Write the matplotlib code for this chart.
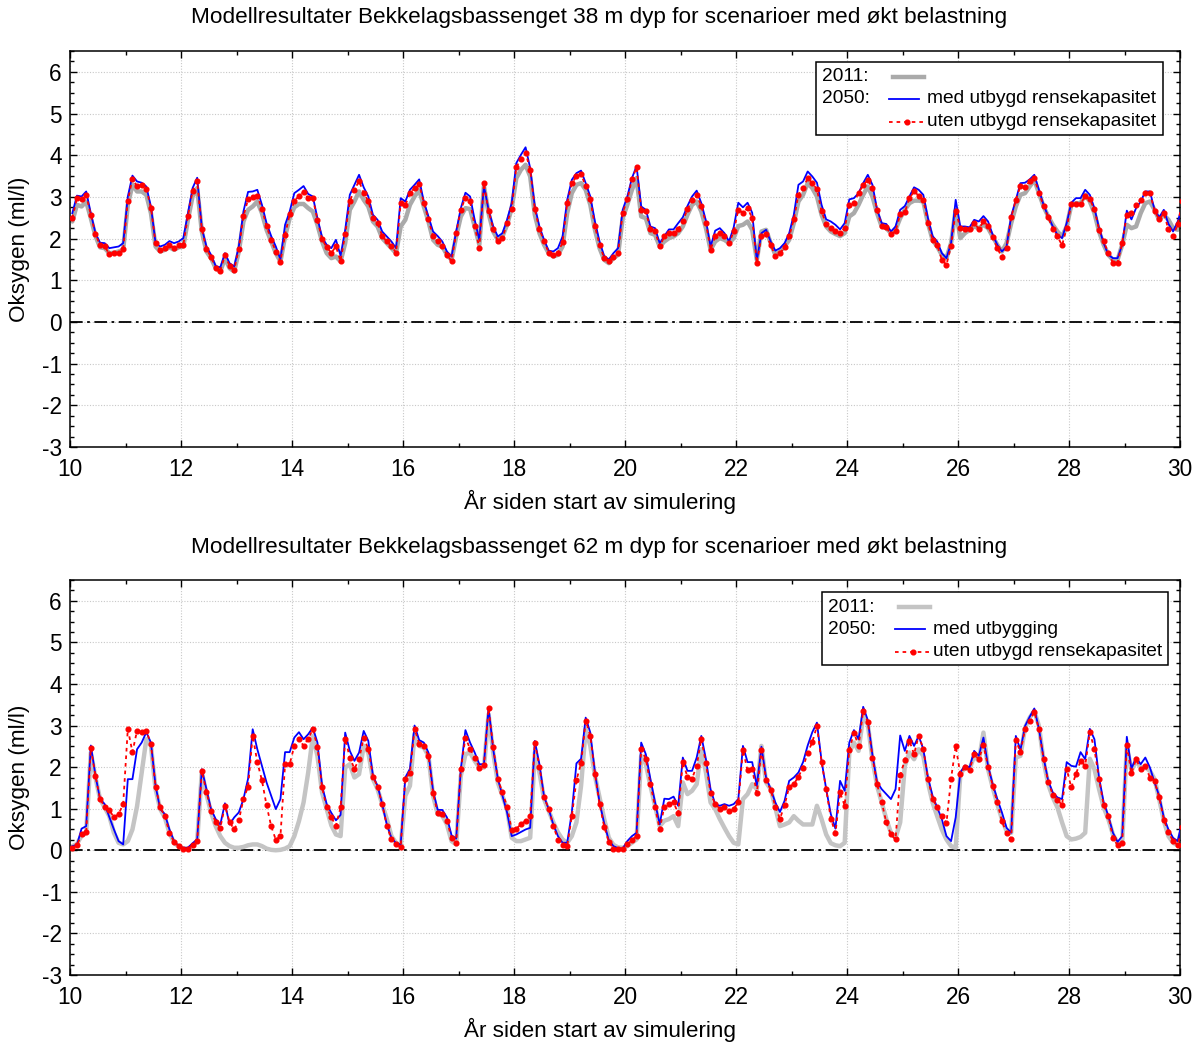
import numpy as np
import matplotlib
matplotlib.use("Agg")
import matplotlib.pyplot as plt
from matplotlib.ticker import MultipleLocator
from matplotlib.patches import Rectangle
from matplotlib.lines import Line2D

plt.rcParams['font.family'] = ['Liberation Sans', 'DejaVu Sans']
plt.rcParams['axes.unicode_minus'] = False

# ---------------- data (monthly values, year 10 .. 30) ----------------
top_2011 = [
    2.41, 2.81, 2.77, 2.89, 2.49, 2.06, 1.79, 1.77, 1.65, 1.66, 1.69, 1.73,
    2.81, 3.29, 3.13, 3.13, 3.05, 2.61, 1.81, 1.69, 1.73, 1.79, 1.73, 1.79,
    1.81, 2.45, 3.01, 3.21, 2.17, 1.69, 1.53, 1.29, 1.21, 1.53, 1.29, 1.21,
    1.69, 2.41, 2.69, 2.77, 2.89, 2.61, 2.21, 1.93, 1.65, 1.45, 2.05, 2.49,
    2.75, 2.83, 2.83, 2.73, 2.65, 2.33, 1.93, 1.65, 1.53, 1.57, 1.45, 1.89,
    2.69, 2.89, 3.13, 2.93, 2.77, 2.41, 2.29, 2.01, 1.89, 1.77, 1.65, 2.29,
    2.45, 2.81, 3.01, 3.17, 2.77, 2.41, 1.97, 1.85, 1.81, 1.61, 1.49, 2.05,
    2.53, 2.73, 2.71, 2.29, 1.85, 3.26, 2.61, 2.17, 1.97, 2.05, 2.33, 2.73,
    3.45, 3.65, 3.77, 3.49, 2.57, 2.13, 1.85, 1.65, 1.57, 1.61, 1.81, 2.61,
    3.09, 3.29, 3.33, 3.17, 2.81, 2.21, 1.77, 1.49, 1.41, 1.53, 1.61, 2.49,
    2.81, 3.17, 3.45, 2.53, 2.49, 2.13, 2.09, 1.81, 1.93, 2.01, 2.05, 2.13,
    2.29, 2.57, 2.81, 2.89, 2.65, 2.25, 1.73, 1.93, 2.01, 1.97, 1.89, 2.01,
    2.30, 2.33, 2.41, 2.21, 1.49, 2.17, 2.21, 1.89, 1.61, 1.69, 1.81, 1.97,
    2.37, 2.89, 3.05, 3.33, 3.21, 3.01, 2.57, 2.29, 2.17, 2.11, 2.06, 2.13,
    2.53, 2.61, 2.81, 3.05, 3.25, 3.01, 2.61, 2.29, 2.25, 2.13, 2.21, 2.49,
    2.69, 2.85, 2.91, 2.91, 2.89, 2.37, 1.97, 1.81, 1.61, 1.53, 1.89, 2.69,
    2.01, 2.13, 2.21, 2.29, 2.25, 2.33, 2.25, 2.05, 1.85, 1.69, 1.89, 2.37,
    2.77, 3.05, 3.09, 3.25, 3.41, 3.09, 2.77, 2.53, 2.33, 2.17, 2.05, 2.29,
    2.81, 2.85, 2.85, 3.05, 2.89, 2.61, 2.17, 1.85, 1.61, 1.49, 1.49, 1.85,
    2.33, 2.25, 2.29, 2.61, 2.85, 2.89, 2.69, 2.45, 2.57, 2.45, 2.25, 2.21,
    2.61,
]
top_med = [
    2.61, 3.03, 3.01, 3.13, 2.61, 2.13, 1.90, 1.89, 1.77, 1.79, 1.81, 1.89,
    3.01, 3.51, 3.37, 3.34, 3.25, 2.77, 1.89, 1.81, 1.85, 1.94, 1.89, 1.93,
    2.01, 2.61, 3.21, 3.46, 2.25, 1.81, 1.61, 1.34, 1.31, 1.65, 1.41, 1.33,
    1.81, 2.65, 3.12, 3.13, 3.17, 2.81, 2.37, 2.06, 1.81, 1.50, 2.33, 2.65,
    3.09, 3.17, 3.26, 3.07, 3.01, 2.49, 2.03, 1.85, 1.77, 1.97, 1.59, 2.21,
    3.05, 3.29, 3.53, 3.23, 3.01, 2.57, 2.45, 2.17, 2.05, 1.93, 1.77, 2.97,
    2.89, 3.17, 3.29, 3.42, 2.89, 2.53, 2.17, 2.06, 1.93, 1.69, 1.57, 2.17,
    2.73, 3.10, 3.01, 2.45, 1.97, 3.26, 2.69, 2.29, 2.05, 2.13, 2.45, 2.85,
    3.81, 4.01, 4.19, 3.69, 2.77, 2.29, 1.97, 1.71, 1.69, 1.77, 2.05, 2.93,
    3.41, 3.57, 3.63, 3.33, 3.01, 2.41, 1.93, 1.58, 1.50, 1.65, 1.77, 2.69,
    3.01, 3.45, 3.74, 2.77, 2.69, 2.29, 2.25, 1.89, 2.06, 2.22, 2.22, 2.37,
    2.51, 2.78, 3.01, 3.15, 2.85, 2.43, 1.81, 2.19, 2.25, 2.13, 1.93, 2.27,
    2.86, 2.75, 2.86, 2.62, 1.47, 2.13, 2.21, 1.93, 1.71, 1.77, 1.89, 2.13,
    2.57, 3.29, 3.37, 3.61, 3.49, 3.34, 2.81, 2.46, 2.41, 2.33, 2.22, 2.37,
    2.94, 2.97, 3.09, 3.33, 3.53, 3.29, 2.70, 2.37, 2.35, 2.17, 2.29, 2.69,
    2.78, 3.01, 3.23, 3.17, 3.05, 2.49, 2.06, 1.93, 1.65, 1.53, 1.89, 2.93,
    2.29, 2.29, 2.27, 2.45, 2.41, 2.54, 2.41, 2.09, 1.85, 1.69, 1.81, 2.54,
    2.93, 3.33, 3.34, 3.42, 3.53, 3.17, 2.81, 2.53, 2.29, 2.09, 2.01, 2.37,
    2.86, 2.97, 2.97, 3.17, 3.05, 2.73, 2.25, 1.89, 1.61, 1.53, 1.53, 1.85,
    2.67, 2.46, 2.73, 2.89, 3.13, 3.13, 2.69, 2.51, 2.69, 2.35, 2.17, 2.41,
    2.77,
]
top_uten = [
    2.49, 2.97, 2.94, 3.04, 2.57, 2.10, 1.84, 1.82, 1.62, 1.66, 1.66, 1.74,
    2.91, 3.44, 3.25, 3.29, 3.19, 2.74, 1.89, 1.72, 1.77, 1.84, 1.78, 1.84,
    1.85, 2.54, 3.14, 3.38, 2.22, 1.75, 1.55, 1.30, 1.23, 1.60, 1.35, 1.25,
    1.75, 2.54, 2.94, 2.99, 3.03, 2.72, 2.29, 1.97, 1.69, 1.45, 2.09, 2.58,
    2.90, 3.02, 3.12, 2.97, 2.97, 2.45, 1.98, 1.79, 1.66, 1.81, 1.46, 2.11,
    2.90, 3.17, 3.38, 3.09, 2.90, 2.49, 2.38, 2.06, 1.93, 1.82, 1.66, 2.86,
    2.80, 3.09, 3.21, 3.31, 2.86, 2.46, 2.05, 1.93, 1.81, 1.61, 1.46, 2.13,
    2.69, 2.98, 2.89, 2.30, 1.77, 3.33, 2.66, 2.23, 1.94, 2.01, 2.37, 2.71,
    3.71, 3.92, 4.06, 3.65, 2.71, 2.22, 1.94, 1.66, 1.61, 1.66, 1.91, 2.85,
    3.33, 3.49, 3.55, 3.25, 2.94, 2.29, 1.85, 1.53, 1.46, 1.57, 1.65, 2.62,
    2.94, 3.42, 3.71, 2.69, 2.65, 2.22, 2.18, 1.81, 2.05, 2.14, 2.13, 2.22,
    2.43, 2.70, 2.93, 3.05, 2.78, 2.37, 1.73, 2.06, 2.14, 2.05, 1.89, 2.17,
    2.69, 2.62, 2.73, 2.49, 1.41, 2.06, 2.10, 1.85, 1.58, 1.65, 1.79, 2.05,
    2.46, 3.05, 3.21, 3.45, 3.33, 3.18, 2.65, 2.35, 2.26, 2.17, 2.13, 2.25,
    2.81, 2.86, 3.10, 3.28, 3.41, 3.21, 2.69, 2.29, 2.27, 2.10, 2.18, 2.58,
    2.63, 2.97, 3.13, 3.03, 2.93, 2.37, 1.97, 1.85, 1.49, 1.37, 1.82, 2.67,
    2.25, 2.22, 2.22, 2.37, 2.23, 2.41, 2.31, 2.03, 1.77, 1.55, 1.77, 2.51,
    2.93, 3.26, 3.23, 3.38, 3.45, 3.10, 2.78, 2.51, 2.23, 2.05, 1.84, 2.25,
    2.83, 2.83, 2.83, 3.02, 2.94, 2.70, 2.21, 1.93, 1.66, 1.42, 1.42, 1.89,
    2.57, 2.62, 2.81, 2.93, 3.09, 3.10, 2.66, 2.46, 2.61, 2.22, 2.05, 2.35,
    2.89,
]

bot_2011 = [
    0.10, 0.15, 0.35, 0.42, 2.35, 1.75, 1.23, 1.03, 0.82, 0.42, 0.18, 0.14,
    0.22, 0.50, 1.06, 1.87, 2.67, 2.51, 1.47, 0.99, 0.79, 0.42, 0.18, 0.09,
    0.04, 0.04, 0.10, 0.22, 1.88, 1.35, 0.91, 0.58, 0.34, 0.18, 0.10, 0.06,
    0.06, 0.08, 0.12, 0.14, 0.14, 0.10, 0.04, 0.01, 0.00, 0.01, 0.04, 0.10,
    0.34, 0.70, 1.15, 1.87, 2.75, 2.27, 1.39, 0.99, 0.60, 0.38, 0.34, 1.99,
    2.07, 1.75, 1.83, 2.51, 2.35, 1.71, 1.47, 1.11, 0.75, 0.34, 0.18, 0.10,
    1.31, 1.55, 2.79, 2.51, 2.47, 2.27, 1.31, 0.87, 0.83, 0.62, 0.22, 0.14,
    1.79, 2.31, 2.35, 2.15, 1.99, 1.99, 3.27, 2.35, 1.63, 1.31, 0.99, 0.30,
    0.22, 0.22, 0.26, 0.30, 2.35, 1.87, 1.23, 0.95, 0.67, 0.43, 0.26, 0.18,
    0.34, 0.67, 1.55, 2.91, 2.51, 1.79, 1.27, 0.75, 0.30, 0.13, 0.07, 0.06,
    0.10, 0.18, 0.26, 2.27, 2.07, 1.55, 1.07, 0.58, 0.71, 0.75, 0.82, 0.58,
    1.63, 1.35, 1.43, 1.59, 2.43, 1.87, 1.15, 0.99, 0.75, 0.54, 0.34, 0.18,
    0.14, 1.23, 1.35, 1.59, 1.47, 2.51, 1.63, 1.47, 1.03, 0.58, 0.62, 0.67,
    0.82, 0.71, 0.62, 0.62, 0.62, 1.07, 0.75, 0.38, 0.17, 0.12, 0.10, 0.18,
    2.35, 2.59, 2.39, 3.23, 3.03, 2.19, 1.55, 1.15, 0.75, 0.42, 0.30, 0.67,
    2.03, 2.35, 2.19, 2.43, 2.27, 1.63, 1.15, 0.82, 0.50, 0.26, 0.10, 0.06,
    1.83, 1.99, 1.95, 2.27, 2.15, 2.83, 1.95, 1.51, 1.11, 0.75, 0.46, 0.42,
    2.23, 2.27, 2.95, 3.19, 3.35, 2.99, 2.15, 1.59, 1.27, 1.03, 0.67, 0.34,
    0.26, 0.28, 0.32, 0.42, 2.20, 1.95, 1.47, 1.03, 0.75, 0.38, 0.18, 0.18,
    2.51, 1.91, 2.15, 1.99, 1.99, 1.91, 1.71, 1.23, 0.71, 0.34, 0.18, 0.12,
    0.59,
]
bot_med = [
    0.10, 0.13, 0.52, 0.58, 2.52, 1.80, 1.23, 1.11, 0.80, 0.50, 0.22, 0.14,
    1.71, 1.71, 2.43, 2.59, 2.84, 2.59, 1.55, 0.99, 0.87, 0.50, 0.22, 0.10,
    0.06, 0.06, 0.17, 0.26, 1.95, 1.47, 0.99, 0.75, 0.62, 1.13, 0.62, 0.79,
    0.91, 1.23, 1.72, 2.91, 2.43, 2.03, 1.63, 1.31, 0.99, 1.23, 2.36, 2.36,
    2.71, 2.84, 2.67, 2.79, 2.95, 2.59, 1.55, 1.11, 0.90, 0.72, 0.85, 2.83,
    2.39, 2.15, 2.35, 2.87, 2.63, 1.79, 1.55, 1.11, 0.62, 0.30, 0.17, 0.14,
    1.75, 1.96, 3.00, 2.65, 2.59, 2.35, 1.43, 0.97, 0.97, 0.79, 0.36, 0.28,
    1.95, 2.89, 2.59, 2.35, 2.07, 2.07, 3.43, 2.43, 1.72, 1.31, 0.91, 0.34,
    0.38, 0.44, 0.50, 0.54, 2.63, 2.07, 1.29, 0.99, 0.62, 0.34, 0.18, 0.18,
    0.91, 2.09, 2.20, 3.19, 2.83, 1.87, 1.15, 0.65, 0.24, 0.10, 0.05, 0.04,
    0.22, 0.34, 0.42, 2.59, 2.31, 1.71, 1.15, 0.62, 1.24, 1.23, 1.29, 1.07,
    2.23, 1.91, 1.91, 2.23, 2.75, 2.19, 1.47, 1.11, 1.07, 1.11, 1.07, 1.11,
    1.23, 2.51, 2.12, 2.12, 1.55, 2.49, 1.75, 1.47, 1.15, 0.92, 1.19, 1.67,
    1.75, 1.87, 2.12, 2.52, 2.84, 3.07, 2.15, 1.47, 0.87, 0.52, 1.67, 1.43,
    2.59, 2.89, 2.67, 3.45, 3.13, 2.29, 1.64, 1.47, 1.35, 1.23, 1.47, 2.76,
    2.39, 2.75, 2.51, 2.75, 2.43, 1.75, 1.31, 1.03, 0.75, 0.34, 0.22, 0.79,
    1.87, 2.04, 1.99, 2.39, 2.27, 2.71, 2.03, 1.59, 1.23, 0.91, 0.54, 0.42,
    2.75, 2.41, 2.99, 3.21, 3.41, 2.92, 2.23, 1.67, 1.39, 1.27, 1.23, 2.12,
    2.03, 2.01, 2.36, 2.19, 2.92, 2.67, 1.75, 1.15, 0.83, 0.42, 0.20, 0.34,
    2.73, 1.96, 2.23, 2.07, 2.23, 1.99, 1.63, 1.31, 0.79, 0.50, 0.30, 0.22,
    0.71,
]
bot_uten = [
    0.06, 0.12, 0.38, 0.44, 2.45, 1.79, 1.23, 1.05, 0.97, 0.79, 0.87, 1.11,
    2.92, 2.36, 2.88, 2.84, 2.88, 2.55, 1.53, 1.03, 0.83, 0.42, 0.20, 0.10,
    0.04, 0.04, 0.13, 0.22, 1.91, 1.40, 0.95, 0.68, 0.54, 1.07, 0.68, 0.50,
    0.72, 1.23, 1.53, 2.76, 2.12, 1.68, 1.08, 0.58, 0.25, 0.34, 2.07, 2.07,
    2.51, 2.68, 2.51, 2.68, 2.91, 2.49, 1.51, 1.03, 0.79, 0.59, 1.03, 2.68,
    2.23, 1.96, 2.19, 2.71, 2.44, 1.77, 1.53, 1.11, 0.59, 0.26, 0.14, 0.09,
    1.72, 1.85, 2.92, 2.56, 2.51, 2.27, 1.37, 0.89, 0.87, 0.71, 0.29, 0.17,
    1.95, 2.71, 2.44, 2.23, 1.99, 2.04, 3.41, 2.49, 1.71, 1.39, 1.05, 0.49,
    0.52, 0.62, 0.71, 0.83, 2.59, 2.01, 1.27, 1.00, 0.59, 0.25, 0.12, 0.10,
    0.82, 1.69, 2.09, 3.11, 2.76, 1.83, 1.11, 0.57, 0.20, 0.04, 0.02, 0.02,
    0.14, 0.25, 0.34, 2.44, 2.20, 1.59, 1.05, 0.50, 1.05, 1.11, 1.15, 0.89,
    2.12, 1.77, 1.72, 2.03, 2.68, 2.09, 1.37, 1.11, 1.00, 1.05, 0.95, 1.00,
    1.15, 2.41, 1.92, 1.96, 1.37, 2.41, 1.69, 1.45, 1.05, 0.76, 1.08, 1.53,
    1.59, 1.77, 1.99, 2.35, 2.60, 2.99, 2.12, 1.47, 0.76, 0.41, 1.39, 1.07,
    2.41, 2.83, 2.51, 3.35, 3.09, 2.23, 1.59, 1.16, 0.67, 0.38, 0.26, 1.80,
    2.17, 2.63, 2.31, 2.76, 2.44, 1.72, 1.24, 1.03, 0.83, 0.65, 1.72, 2.51,
    1.83, 2.01, 1.93, 2.31, 2.19, 2.52, 2.01, 1.55, 1.15, 0.70, 0.41, 0.28,
    2.65, 2.36, 2.91, 3.12, 3.33, 2.91, 2.19, 1.64, 1.34, 1.21, 1.09, 1.95,
    1.51, 1.83, 2.15, 2.03, 2.84, 2.43, 1.71, 1.08, 0.83, 0.30, 0.12, 0.17,
    2.52, 1.85, 2.19, 1.95, 2.03, 1.75, 1.67, 1.27, 0.73, 0.44, 0.22, 0.12,
    0.57,
]

titles = ["Modellresultater Bekkelagsbassenget 38 m dyp for scenarioer med økt belastning",
          "Modellresultater Bekkelagsbassenget 62 m dyp for scenarioer med økt belastning"]
legend_med = ["med utbygd rensekapasitet", "med utbygging"]
legend_uten = "uten utbygd rensekapasitet"
xlabel = "År siden start av simulering"
ylabel = "Oksygen (ml/l)"
start_year = 10.0


def times(vals):
    return start_year + (np.arange(len(vals)) + 0.5) / 12.0


W, H = 1199, 1044
fig = plt.figure(figsize=(W / 100, H / 100), dpi=100)

def px_axes(l, t, r, b):
    return fig.add_axes([l / W, 1 - b / H, (r - l) / W, (b - t) / H])

ax1 = px_axes(70, 51, 1180, 447)
ax2 = px_axes(70, 580, 1180, 975)

panels = [
    (ax1, top_2011, top_med, top_uten, '#aaaaaa', titles[0], legend_med[0], 18, 502,
     (816, 62, 1163, 135), (76.5, 98.5, 121.5), (822, 889, 924, 927)),
    (ax2, bot_2011, bot_med, bot_uten, '#c4c4c4', titles[1], legend_med[1], 548, 1030,
     (822, 592, 1168, 665), (607, 629, 652), (828, 895, 930, 933)),
]

fs = 16.3
for (ax, g, b, r, gcol, title, lmed, ty, xly, box, rows, xs) in panels:
    ax.plot(times(g), g, color=gcol, lw=3.2, solid_capstyle='round', zorder=2)
    ax.plot(times(b), b, color='#0000ff', lw=1.3, zorder=3)
    ax.plot(times(r), r, color='#ff0000', lw=1.3, linestyle=(0, (2, 2.2)),
            marker='o', ms=3.4, mec='#ff0000', mfc='#ff0000', zorder=4)
    ax.axhline(0, color='black', lw=1.3, linestyle=(0, (7, 2.5, 1.5, 2.5)), zorder=1)

    ax.set_xlim(10, 30)
    ax.set_ylim(-3, 6.5)
    ax.xaxis.set_major_locator(MultipleLocator(2))
    ax.xaxis.set_minor_locator(MultipleLocator(1))
    ax.yaxis.set_major_locator(MultipleLocator(1))
    ax.yaxis.set_minor_locator(MultipleLocator(0.25))
    ax.tick_params(which='both', direction='in', top=True, right=True,
                   labelsize=fs, width=1)
    ax.tick_params(which='major', length=5)
    ax.tick_params(axis='x', which='major', pad=8)
    ax.tick_params(axis='y', which='major', pad=6)
    ax.tick_params(which='minor', length=3)
    ax.grid(True, which='major', color='#c8c8c8', lw=0.8, linestyle=(0, (1, 1.5)))
    for s in ax.spines.values():
        s.set_linewidth(1.1)
    ax.set_axisbelow(True)

    fig.text(0.5, 1 - ty / H, title, ha='center', va='center', fontsize=16.2)
    fig.text(0.5, 1 - xly / H, xlabel, ha='center', va='center', fontsize=16.2)
    y0, y1 = ax.get_position().y0, ax.get_position().y1
    fig.text(20 / W, (y0 + y1) / 2, ylabel, rotation=90, ha='center', va='center', fontsize=16.2)

    # legend box (pixel layout)
    bl, bt, br, bb = box
    fig.patches.append(Rectangle((bl / W, 1 - bb / H), (br - bl) / W, (bb - bt) / H,
                                 transform=fig.transFigure, facecolor='white',
                                 edgecolor='black', lw=1.1, zorder=10))
    lx, hx0, hx1, tx = xs
    lfs = 13.8
    fig.text(lx / W, 1 - rows[0] / H, "2011:", ha='left', va='center', fontsize=lfs, zorder=11)
    fig.text(lx / W, 1 - rows[1] / H, "2050:", ha='left', va='center', fontsize=lfs, zorder=11)
    fig.lines.append(Line2D([(hx0 + 4) / W, hx1 / W], [1 - rows[0] / H] * 2,
                            transform=fig.transFigure, color=gcol, lw=3.2, zorder=11))
    fig.lines.append(Line2D([hx0 / W, (hx1 - 5) / W], [1 - rows[1] / H] * 2,
                            transform=fig.transFigure, color='#0000ff', lw=1.3, zorder=11))
    fig.lines.append(Line2D([hx0 / W, hx1 / W], [1 - rows[2] / H] * 2,
                            transform=fig.transFigure, color='#ff0000', lw=1.3,
                            linestyle=(0, (2, 2.2)), zorder=11))
    fig.lines.append(Line2D([(hx0 + hx1) / 2 / W], [1 - rows[2] / H],
                            transform=fig.transFigure, color='#ff0000', marker='o',
                            ms=3.4, lw=0, zorder=11))
    fig.text(tx / W, 1 - rows[1] / H, lmed, ha='left', va='center', fontsize=lfs, zorder=11)
    fig.text(tx / W, 1 - rows[2] / H, legend_uten, ha='left', va='center', fontsize=lfs, zorder=11)

fig.savefig("out.png", dpi=100)
